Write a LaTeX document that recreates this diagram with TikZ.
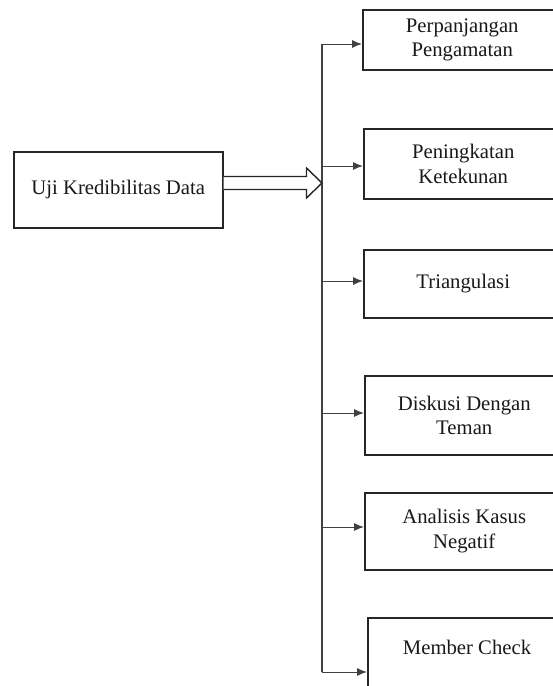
\documentclass[tikz,border=0pt]{standalone}
\usepackage{fontspec}
\setmainfont{Liberation Serif}
\usetikzlibrary{arrows.meta,calc}
\begin{document}
\begin{tikzpicture}[x=1pt,y=-1pt,
  box/.style={draw=black!85, line width=1.5pt, rectangle, inner sep=0pt, align=center,
    font=\fontsize{20.7}{24.5}\selectfont, text=black!90},
  rbox/.style={box, anchor=north west, minimum width=199},
  lbl/.style={align=center, font=\fontsize{20.7}{24.5}\selectfont, text=black!90},
  link/.style={draw=black!75, line width=1pt, -{Latex[length=10pt,width=8pt]}},
  trunkline/.style={draw=black!75, line width=1.3pt},
  blockarrow/.style={draw=black!85, line width=1.4pt, fill=white, line join=miter}]
\clip (0,0) rectangle (553,686);
\fill[white] (0,0) rectangle (553,686);
% source box
\node[box, anchor=north west, minimum width=209, minimum height=76] (src) at (13,151) {Uji Kredibilitas Data};
% target boxes
\node[rbox, minimum height=60] (b1) at (362,9) {Perpanjangan\\Pengamatan};
\node[rbox, minimum height=70] (b2) at (363,128) {Peningkatan\\Ketekunan};
\node[rbox, minimum height=68] (b3) at (363,249) {Triangulasi};
\node[rbox, minimum height=79] (b4) at (364,375) {Diskusi Dengan\\Teman};
\node[rbox, minimum height=77] (b5) at (364,492) {Analisis Kasus\\Negatif};
\node[rbox, minimum height=95] (b6) at (367,617) {};
\node[lbl] (b6t) at (467,647) {Member Check};
% trunk coordinates
\coordinate (t1) at (322,44);
\coordinate (t2) at (322,166);
\coordinate (t3) at (322,281);
\coordinate (t4) at (322,413);
\coordinate (t5) at (322,527);
\coordinate (t6) at (322,672);
\coordinate (tip) at (322,183);
\draw[trunkline] (t1) -- (t6);
\draw[link] (t1) -- (t1 -| b1.west);
\draw[link] (t2) -- (t2 -| b2.west);
\draw[link] (t3) -- (t3 -| b3.west);
\draw[link] (t4) -- (t4 -| b4.west);
\draw[link] (t5) -- (t5 -| b5.west);
\draw[link] (t6) -- (t6 -| b6.west);
% hollow block arrow
\coordinate (a0) at (src.east |- tip);
\draw[blockarrow] ($(a0)+(0,-6.5)$) -- ($(a0)+(83,-6.5)$) -- ($(a0)+(83,-15)$) -- (tip)
  -- ($(a0)+(83,15)$) -- ($(a0)+(83,6.5)$) -- ($(a0)+(0,6.5)$);
\end{tikzpicture}
\end{document}
